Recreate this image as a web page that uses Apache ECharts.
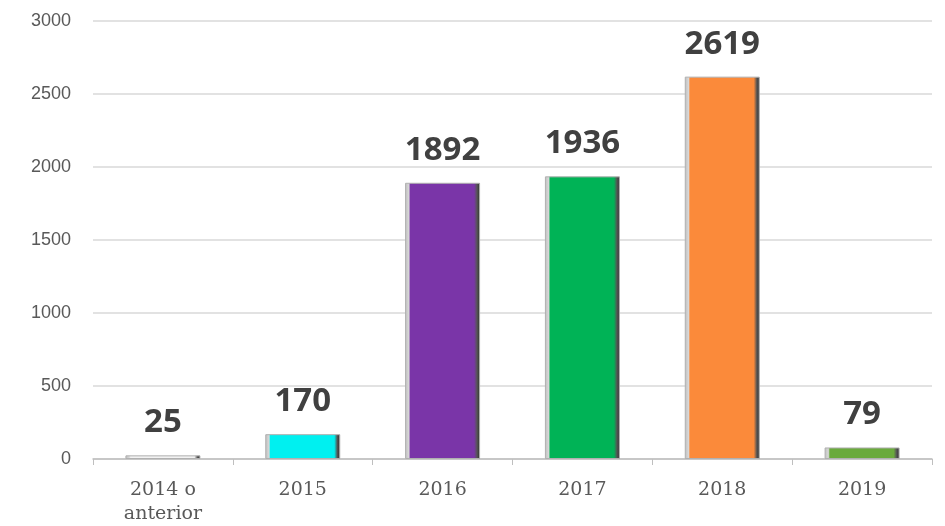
<!DOCTYPE html>
<html>
<head>
<meta charset="utf-8">
<script src="https://cdn.jsdelivr.net/npm/echarts@6/dist/echarts.min.js"></script>
<style>
  html, body { margin: 0; padding: 0; background: #fff; }
  #chart { width: 945px; height: 526px; }
</style>
</head>
<body>
<div id="chart"></div>
<script>
const categories = ['2014 o\nanterior', '2015', '2016', '2017', '2018', '2019'];
const values = [25, 170, 1892, 1936, 2619, 79];
const barColors = ['#f2f2f2', '#00f0f0', '#7a35a8', '#00b356', '#fb8a3a', '#6aaa3c'];

// bevel look: grey light edge left, dark edge right
const bevel = (c) => ({
  type: 'linear', x: 0, y: 0, x2: 1, y2: 0,
  colorStops: [
    { offset: 0, color: '#bdbdbd' },
    { offset: 0.05, color: '#d8d8d8' },
    { offset: 0.07, color: c },
    { offset: 0.92, color: c },
    { offset: 0.96, color: '#555' },
    { offset: 1, color: '#2a2a2a' }
  ]
});

const myChart = echarts.init(document.getElementById('chart'));
myChart.setOption({
  animation: false,
  grid: { left: 93, right: 13, top: 21, bottom: 67, outerBoundsMode: 'none', containLabel: false },
  xAxis: {
    type: 'category',
    data: categories,
    axisLine: { lineStyle: { color: '#bfbfbf', width: 1.5 } },
    axisTick: { show: true, length: 6, lineStyle: { color: '#bfbfbf' } },
    axisLabel: {
      fontFamily: 'DejaVu Serif', fontSize: 19, color: '#595959',
      margin: 19, lineHeight: 24
    }
  },
  yAxis: {
    type: 'value', min: 0, max: 3000, interval: 500,
    axisLine: { show: false },
    axisTick: { show: false },
    splitLine: { lineStyle: { color: '#d9d9d9', width: 1.5 } },
    axisLabel: {
      fontFamily: 'Liberation Sans', fontSize: 18, color: '#595959', margin: 22,
      formatter: (v) => String(v)
    }
  },
  series: [{
    type: 'bar',
    barWidth: 75,
    data: values.map((v, i) => ({
      value: v,
      itemStyle: { color: bevel(barColors[i]) }
    })),
    itemStyle: { borderColor: '#b0b0b0', borderWidth: 1 },
    label: {
      show: true, position: 'top', distance: 16,
      fontFamily: 'Open Sans', fontWeight: 'bold', fontSize: 33, color: '#404040'
    }
  }]
});
</script>
</body>
</html>
